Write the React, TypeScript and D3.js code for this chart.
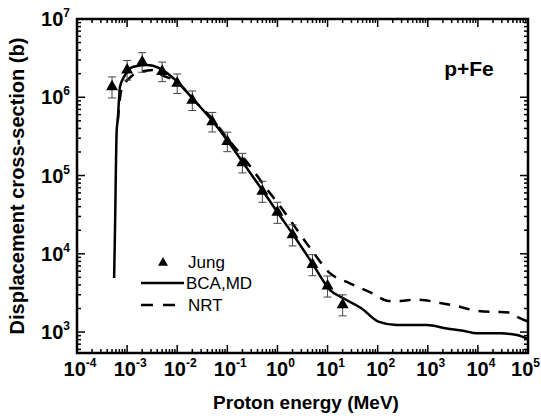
import React from "react";
import * as d3 from "d3";

// Jung experimental points (MeV, barn), relative error
const jungE = [5e-4, 1e-3, 2e-3, 5e-3, 1e-2, 2e-2, 5e-2, 0.1, 0.2, 0.5, 1, 2, 5, 10, 20];
const jungS = [1.4e6, 2.3e6, 2.9e6, 2.2e6, 1.55e6, 9.4e5, 5e5, 2.8e5, 1.5e5, 6.5e4, 3.5e4, 1.8e4, 7.5e3, 4e3, 2.3e3];
const jungErr = [0.3, 0.28, 0.28, 0.28, 0.28, 0.28, 0.28, 0.28, 0.28, 0.3, 0.3, 0.3, 0.3, 0.3, 0.3];

// BCA,MD curve
const bcaE = [5.5e-4, 5.7e-4, 6.2e-4, 6.5e-4, 7.2e-4, 9.1e-4, 1.33e-3, 2.46e-3, 4.5e-3, 1e-2, 2.1e-2, 5e-2, 0.1, 0.2, 0.5, 1, 2, 5, 11.2, 20.7, 48, 103, 240, 955, 2400, 5100, 9500, 2.8e4, 6e4, 1e5];
const bcaS = [4.9e3, 1.65e4, 3.8e5, 5.1e5, 1.36e6, 1.92e6, 2.46e6, 2.58e6, 2.34e6, 1.58e6, 9.4e5, 5e5, 2.8e5, 1.5e5, 6.5e4, 3.4e4, 1.8e4, 7.5e3, 3.44e3, 2.7e3, 2.0e3, 1.36e3, 1.23e3, 1.23e3, 1.11e3, 1.04e3, 962, 962, 916, 813];

// NRT curve
const nrtE = [6.5e-4, 7.6e-4, 9.1e-4, 1.24e-3, 1.98e-3, 3.6e-3, 4.9e-3, 1e-2, 2e-2, 5e-2, 0.1, 0.265, 0.557, 1.18, 5, 10.7, 28, 77, 164, 280, 560, 880, 1500, 4000, 9500, 2.8e4, 4.4e4, 6.4e4, 1e5];
const nrtS = [5e5, 1.2e6, 1.52e6, 1.87e6, 2.13e6, 2.23e6, 1.93e6, 1.58e6, 9.6e5, 5.3e5, 3.0e5, 1.4e5, 7.3e4, 3.9e4, 1.08e4, 5.8e3, 4.2e3, 3.15e3, 2.5e3, 2.5e3, 2.6e3, 2.55e3, 2.4e3, 2.13e3, 1.87e3, 1.8e3, 1.78e3, 1.54e3, 1.36e3];

const xExps = [-4, -3, -2, -1, 0, 1, 2, 3, 4, 5];
const yExps = [3, 4, 5, 6, 7];

const W = 541, H = 419;
const L = 77, R = 528, T = 19, B = 353;
const FONT = "Arial, 'Liberation Sans', sans-serif";

export default function App() {
  const x = d3.scaleLog().domain([1e-4, 1e5]).range([L, R]);
  const y = d3.scaleLog().domain([540, 1e7]).range([B, T]);

  const line = d3.line<[number, number]>()
    .x(d => x(d[0]))
    .y(d => y(d[1]))
    .curve(d3.curveMonotoneX);

  const bcaPath = line(bcaE.map((e, i) => [e, bcaS[i]]) as [number, number][]) || "";
  const nrtPath = line(nrtE.map((e, i) => [e, nrtS[i]]) as [number, number][]) || "";

  // minor ticks
  const xMinor: number[] = [];
  for (let p = -4; p < 5; p++) for (let k = 2; k <= 9; k++) xMinor.push(k * Math.pow(10, p));
  const yMinor: number[] = [];
  for (let p = 2; p < 7; p++) for (let k = 2; k <= 9; k++) {
    const v = k * Math.pow(10, p);
    if (v >= 540 && v <= 1e7) yMinor.push(v);
  }

  const tri = (cx: number, cy: number, s = 6) =>
    `M${cx},${cy - s} L${cx + s},${cy + s * 0.75} L${cx - s},${cy + s * 0.75} Z`;

  return (
    <svg width={W} height={H} style={{ position: "absolute", left: 0, top: 0, background: "#fff" }}>
      {/* ticks */}
      <g stroke="#000" strokeWidth={1.5}>
        {xExps.map(e => {
          const px = x(Math.pow(10, e));
          return <g key={"xm" + e}>
            <line x1={px} x2={px} y1={B} y2={B - 8} />
            <line x1={px} x2={px} y1={T} y2={T + 8} />
          </g>;
        })}
        {xMinor.map((v, i) => {
          const px = x(v);
          return <g key={"xn" + i}>
            <line x1={px} x2={px} y1={B} y2={B - 4} />
            <line x1={px} x2={px} y1={T} y2={T + 4} />
          </g>;
        })}
        {yExps.map(e => {
          const py = y(Math.pow(10, e));
          return <g key={"ym" + e}>
            <line x1={L} x2={L + 8} y1={py} y2={py} />
            <line x1={R} x2={R - 8} y1={py} y2={py} />
          </g>;
        })}
        {yMinor.map((v, i) => {
          const py = y(v);
          return <g key={"yn" + i}>
            <line x1={L} x2={L + 4} y1={py} y2={py} />
            <line x1={R} x2={R - 4} y1={py} y2={py} />
          </g>;
        })}
      </g>
      <rect x={L} y={T} width={R - L} height={B - T} fill="none" stroke="#000" strokeWidth={2.5} />

      {/* tick labels */}
      <g fontFamily={FONT} fontWeight="bold" fill="#000">
        {xExps.map(e => {
          const last = e === xExps[xExps.length - 1];
          return (
            <text key={"xl" + e} x={last ? 540 : x(Math.pow(10, e)) + 3} y={376}
              textAnchor={last ? "end" : "middle"} fontSize={20}>
              10<tspan fontSize={12} dy={-9}>{e}</tspan>
            </text>
          );
        })}
        {yExps.map(e => (
          <text key={"yl" + e} x={70} y={y(Math.pow(10, e)) + 7} textAnchor="end" fontSize={20}>
            10<tspan fontSize={12} dy={-9}>{e}</tspan>
          </text>
        ))}
      </g>

      {/* curves */}
      <path d={nrtPath} fill="none" stroke="#000" strokeWidth={2.5} strokeDasharray="11,9" />
      <path d={bcaPath} fill="none" stroke="#000" strokeWidth={2.5} />

      {/* Jung data */}
      <g>
        {jungE.map((e, i) => {
          const px = x(e);
          const top = y(jungS[i] * (1 + jungErr[i]));
          const bot = y(jungS[i] * (1 - jungErr[i]));
          return <g key={"j" + i} stroke="#444" strokeWidth={1}>
            <line x1={px} x2={px} y1={top} y2={bot} />
            <line x1={px - 4} x2={px + 4} y1={top} y2={top} />
            <line x1={px - 4} x2={px + 4} y1={bot} y2={bot} />
          </g>;
        })}
        {jungE.map((e, i) => (
          <path key={"t" + i} d={tri(x(e), y(jungS[i]))} fill="#000" />
        ))}
      </g>

      {/* legend */}
      <g fontFamily={FONT} fontSize={17} fill="#000">
        <path d={tri(163, 262, 5)} fill="#000" />
        <text x={188} y={268}>Jung</text>
        <line x1={141} x2={184} y1={283} y2={283} stroke="#000" strokeWidth={2.5} />
        <text x={186} y={289}>BCA,MD</text>
        <line x1={141} x2={184} y1={305} y2={305} stroke="#000" strokeWidth={2.5} strokeDasharray="12,10" />
        <text x={188} y={311}>NRT</text>
      </g>

      <text x={469} y={76} textAnchor="middle" fontFamily={FONT} fontWeight="bold" fontSize={21}>p+Fe</text>

      <text x={306} y={409} textAnchor="middle" fontFamily={FONT} fontWeight="bold" fontSize={19}>Proton energy (MeV)</text>
      <text transform={`translate(24,${(T + B) / 2}) rotate(-90)`} textAnchor="middle" fontFamily={FONT} fontWeight="bold" fontSize={20}>Displacement cross-section (b)</text>
    </svg>
  );
}
